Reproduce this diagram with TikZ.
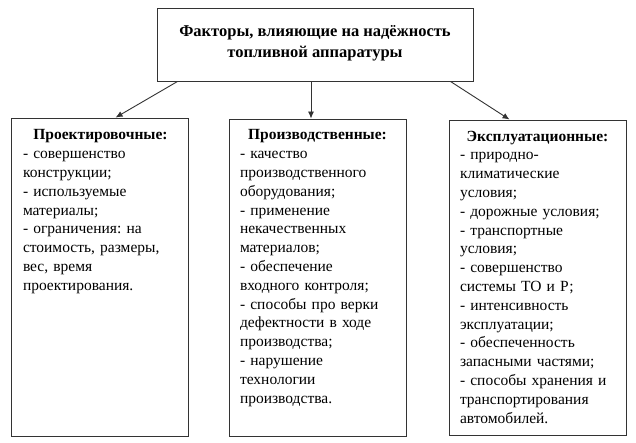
\documentclass[tikz,border=0pt]{standalone}
\usepackage{fontspec}
\setmainfont{Liberation Serif}
\usetikzlibrary{arrows.meta}
\frenchspacing
\tikzset{
  frame/.style={draw=black!80, line width=0.9pt, inner sep=0pt},
  body/.style={anchor=north, inner sep=0pt, text width=155pt, align=left,
    font=\fontsize{15.5}{18.8}\selectfont},
  conn/.style={draw=black!80, line width=0.9pt, -{Latex[length=7pt,width=6pt]}}
}
\newcommand{\hd}[1]{\makebox[\linewidth][c]{\bfseries #1}}
\begin{document}
\begin{tikzpicture}[x=1pt,y=-1pt]
\useasboundingbox (0,0) rectangle (636,443);
\fill[white] (0,0) rectangle (636,443);
\node[frame, minimum width=316pt, minimum height=73pt] (top) at (315,44.5) {};
\node[inner sep=0pt, align=center, font=\fontsize{16.5}{21}\selectfont\bfseries] (toptext) at ([yshift=1pt]top.center)
  {Факторы, влияющие на надёжность\\топливной аппаратуры};
\node[frame, minimum width=177pt, minimum height=318pt] (left) at (99.5,277) {};
\node[frame, minimum width=177pt, minimum height=317pt] (mid) at (317.5,277.5) {};
\node[frame, minimum width=177pt, minimum height=315pt] (right) at (537.5,277.5) {};
\node[body] (lefttext) at ([xshift=1pt,yshift=-12pt]left.north)
  {\hd{Проектировочные:}\\
  - совершенство\\ конструкции;\\ - используемые\\ материалы;\\
  - ограничения: на\\ стоимость, размеры,\\ вес, время\\ проектирования.};
\node[body] (midtext) at ([yshift=-11pt]mid.north)
  {\hd{Производственные:}\\
  - качество\\ производственного\\ оборудования;\\ - применение\\
  некачественных\\ материалов;\\ - обеспечение\\ входного контроля;\\
  - способы про верки\\ дефектности в ходе\\ производства;\\ - нарушение\\
  технологии\\ производства.};
\node[body] (righttext) at ([yshift=-11pt]right.north)
  {\hd{Эксплуатационные:}\\
  - природно-\\ климатические\\ условия;\\ - дорожные условия;\\
  - транспортные\\ условия;\\ - совершенство\\ системы ТО и Р;\\
  - интенсивность\\ эксплуатации;\\ - обеспеченность\\ запасными частями;\\
  - способы хранения и\\ транспортирования\\ автомобилей.};
\draw[conn] ([xshift=21pt]top.south west) -- ([xshift=105pt]left.north west);
\draw[conn] ([xshift=-4pt]top.south) -- ([xshift=-6.5pt]mid.north);
\draw[conn] ([xshift=-23pt]top.south east) -- ([xshift=61pt]right.north west);
\end{tikzpicture}
\end{document}
